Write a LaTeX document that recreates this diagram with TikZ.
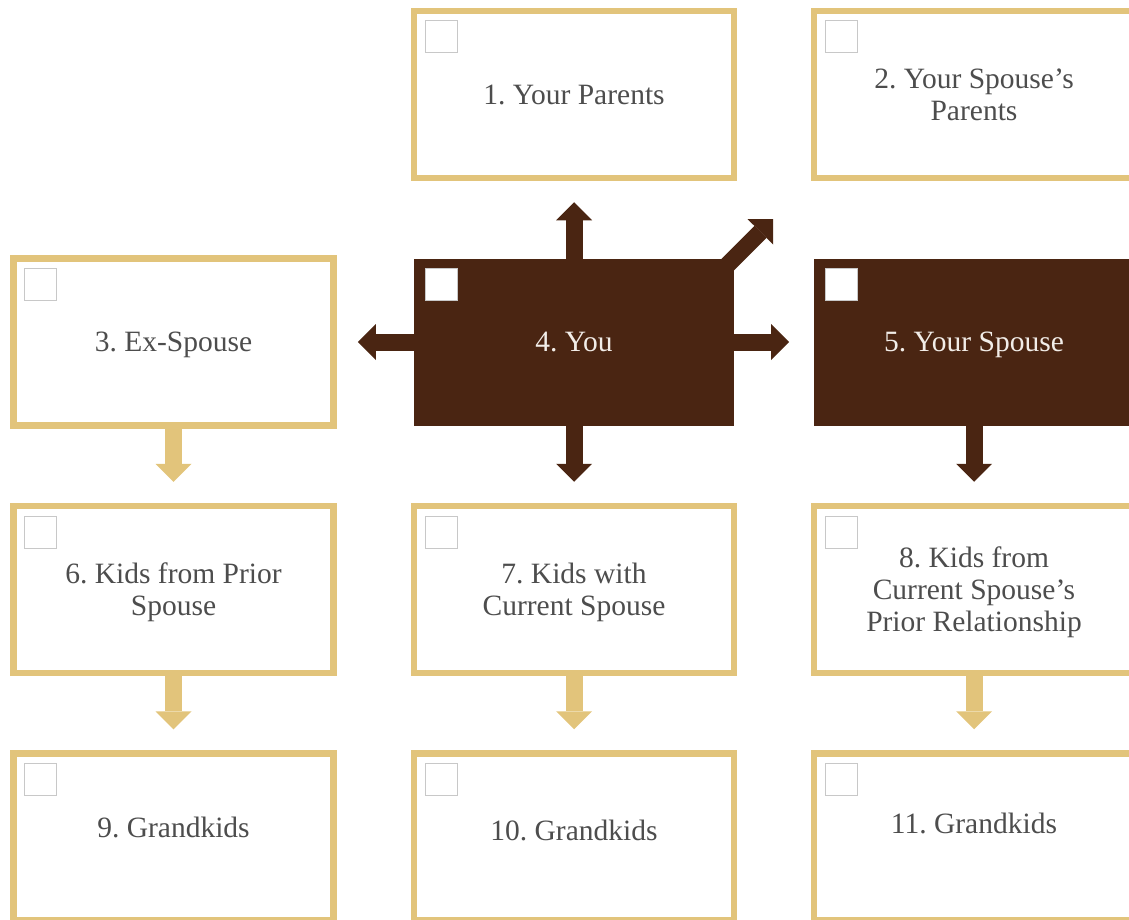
\documentclass[tikz,border=0pt]{standalone}
\usepackage{fontspec}
\setmainfont{Liberation Serif}
\usetikzlibrary{arrows.meta}
\definecolor{gold}{HTML}{E2C47B}
\definecolor{brn}{HTML}{4A2512}
\definecolor{txtgray}{HTML}{4D4D4D}
\definecolor{txtlight}{HTML}{F2EDE8}
\definecolor{chk}{HTML}{C8C8C8}
\frenchspacing
\begin{document}
\begin{tikzpicture}[x=1pt,y=-1pt,
  boxfont/.style={font=\fontsize{29.5}{32}\selectfont\frenchspacing},
  wbox/.style={draw=gold, line width=6.5pt, fill=white, minimum width=320pt, minimum height=167pt,
    inner sep=0pt, align=center, text=txtgray, text depth=0pt, boxfont},
  bbox/.style={fill=brn, minimum width=320pt, minimum height=167pt, inner sep=0pt, outer sep=0pt,
    align=center, text=txtlight, text depth=0pt, boxfont},
  lbl/.style={inner sep=0pt, align=center, text=txtgray, text depth=0pt, boxfont},
  chkbox/.style={draw=chk, line width=1pt, fill=white, minimum size=32pt, inner sep=0pt},
  barr/.style={draw=brn, line width=17pt, -{Triangle[length=18pt,width=36pt,line width=0pt]}, shorten >=21pt},
  garr/.style={draw=gold, line width=17pt, -{Triangle[length=18pt,width=36pt,line width=0pt]}, shorten >=21pt}
]
\useasboundingbox (0,0) rectangle (1129,920);
\clip (0,0) rectangle (1129,920);

% boxes
\node[wbox] (p1) at (574,94.5) {1. Your Parents};
\node[wbox] (p2) at (974,94.5) {2. Your Spouse’s\\Parents};
\node[wbox] (ex) at (173.5,342) {3. Ex-Spouse};
\node[bbox] (you) at (574,342) {4. You};
\node[bbox] (sp) at (974,342) {5. Your Spouse};
\node[wbox] (k6) at (173.5,589.5) {6. Kids from Prior\\Spouse};
\node[wbox] (k7) at (574,589.5) {7. Kids with\\Current Spouse};
\node[wbox] (k8) at (974,589.5) {8. Kids from\\Current Spouse’s\\Prior Relationship};
\node[wbox] (g9) at (173.5,837) {};
\node[wbox] (g10) at (574,837) {};
\node[wbox] (g11) at (974,837) {};
\node[lbl] (g9t) at ([yshift=10pt]g9.center) {9. Grandkids};
\node[lbl] (g10t) at ([yshift=7pt]g10.center) {10. Grandkids};
\node[lbl] (g11t) at ([yshift=14pt]g11.center) {11. Grandkids};

% check boxes
\foreach \b in {p1,p2,ex,you,sp,k6,k7,k8,g9,g10,g11}
  \node[chkbox] (c\b) at ([shift={(-133pt,57.5pt)}]\b.center) {};

% brown arrows
\draw[barr] (you.north) -- (p1.south);
\draw[barr, shorten >=53.4pt] ([shift={(-15pt,-15pt)}]you.north east) -- (p2.south west);
\draw[barr] (you.west) -- (ex.east);
\draw[barr, shorten >=25pt] (you.east) -- (sp.west);
\draw[barr] (you.south) -- (k7.north);
\draw[barr] (sp.south) -- (k8.north);

% gold arrows
\draw[garr] (ex.south) -- (k6.north);
\draw[garr] (k6.south) -- (g9.north);
\draw[garr] (k7.south) -- (g10.north);
\draw[garr] (k8.south) -- (g11.north);
\end{tikzpicture}
\end{document}
